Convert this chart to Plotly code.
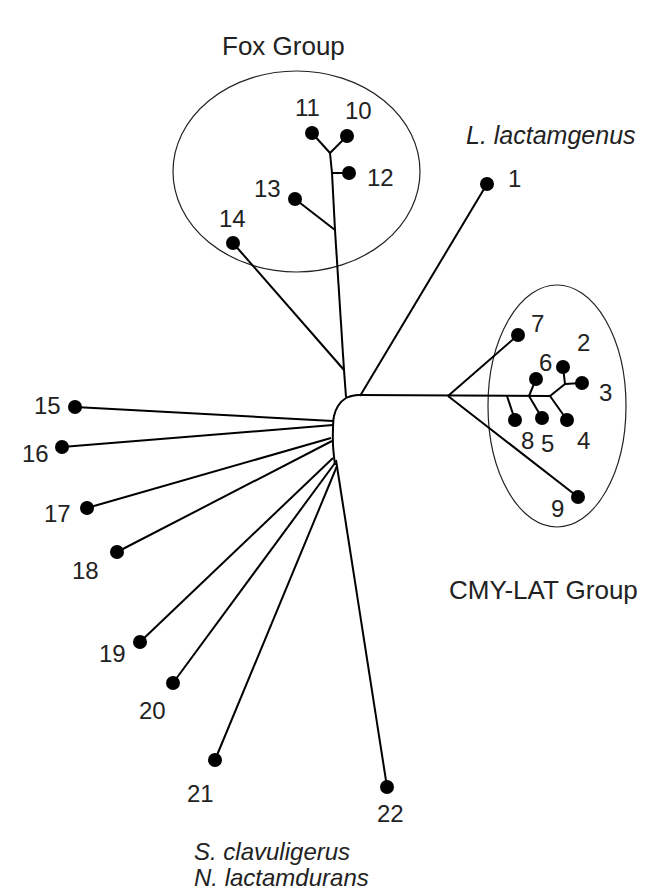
import plotly.graph_objects as go

# ---- data: tree nodes (drawing coordinates) ----
leaf_ids = [str(i) for i in range(1, 23)]
leaf_x = [487, 563, 582, 567, 542, 536, 518, 515, 578, 347, 312, 349, 295, 233,
          75, 62, 87, 117, 140, 173, 215, 387]
leaf_y = [184, 367, 383, 420, 418, 379, 335, 420, 497, 136, 133, 173, 199, 243,
          407, 447, 508, 552, 642, 683, 760, 787]
label_x = [514, 583, 605, 583, 547, 545, 537, 527, 557, 358, 307, 380, 267, 232,
           47, 35, 57, 85, 112, 152, 200, 390]
label_y = [178, 342, 392, 440, 443, 362, 323, 440, 508, 110, 107, 177, 188, 218,
           405, 453, 513, 570, 653, 710, 793, 813]

node_ids = ["hub", "F0", "F14", "F13", "F12", "F1011", "C0", "C8", "C56", "C234", "C23",
            "h15", "h16", "h17", "h18", "h19", "h20", "h21", "h22", "h1"]
node_x = [358, 346, 344, 335, 332, 330, 448, 507, 529, 550, 565,
          333, 333, 331, 332, 333, 335, 337, 336, 360]
node_y = [395, 397, 370, 230, 173, 153, 396, 396, 396, 396, 384,
          421, 425, 438, 441, 458, 463, 466, 460, 396]

hub_arc_x = [358, 346, 338, 334, 333, 333, 335]
hub_arc_y = [395, 398, 406, 416, 428, 445, 465]

edges = [("hub", "C234"), ("h1", "1"),
         ("C0", "7"), ("C0", "9"), ("C8", "8"), ("C56", "5"), ("C56", "6"),
         ("C234", "4"), ("C234", "C23"), ("C23", "2"), ("C23", "3"),
         ("F0", "F14"), ("F14", "F13"), ("F13", "F12"), ("F12", "F1011"),
         ("F14", "14"), ("F13", "13"), ("F12", "12"), ("F1011", "10"), ("F1011", "11"),
         ("h15", "15"), ("h16", "16"), ("h17", "17"), ("h18", "18"),
         ("h19", "19"), ("h20", "20"), ("h21", "21"), ("h22", "22")]

group_labels = ["Fox Group", "<i>L. lactamgenus</i>", "CMY-LAT Group",
                "<i>S. clavuligerus</i>", "<i>N. lactamdurans</i>"]
group_x = [283, 551, 543, 192, 192]
group_y = [46, 135, 590, 851, 877]
group_anchor = ["center", "center", "center", "left", "left"]
group_size = [26, 25, 26, 24, 24]

pos = {}
for n, x, y in zip(leaf_ids, leaf_x, leaf_y):
    pos[n] = (x, y)
for n, x, y in zip(node_ids, node_x, node_y):
    pos[n] = (x, y)

ex, ey = [], []
for a, b in edges:
    ex += [pos[a][0], pos[b][0], None]
    ey += [pos[a][1], pos[b][1], None]

fig = go.Figure()
fig.add_trace(go.Scatter(x=ex, y=ey, mode="lines",
                         line=dict(color="black", width=2), hoverinfo="skip"))
fig.add_trace(go.Scatter(x=hub_arc_x, y=hub_arc_y, mode="lines",
                         line=dict(color="black", width=2, shape="spline"), hoverinfo="skip"))
fig.add_trace(go.Scatter(x=leaf_x, y=leaf_y, mode="markers",
                         marker=dict(color="black", size=14), text=leaf_ids,
                         hoverinfo="text"))

# group ellipses
fig.add_shape(type="circle", x0=173, x1=420, y0=71, y1=272,
              line=dict(color="#222", width=1.2), layer="below")
fig.add_shape(type="circle", x0=488, x1=626, y0=285, y1=527,
              line=dict(color="#222", width=1.2), layer="below")

font = "Liberation Sans, Arial, Helvetica, sans-serif"
for t, x, y in zip(leaf_ids, label_x, label_y):
    fig.add_annotation(x=x, y=y, text=t, showarrow=False,
                       font=dict(family=font, size=24, color="#222"),
                       xanchor="center", yanchor="middle")
for t, x, y, a, s in zip(group_labels, group_x, group_y, group_anchor, group_size):
    fig.add_annotation(x=x, y=y, text=t, showarrow=False,
                       font=dict(family=font, size=s, color="#222"),
                       xanchor=a, yanchor="middle")

# page body has an 8px margin: figure is 8px smaller and axes start at 8
fig.update_layout(width=639, height=884, margin=dict(l=0, r=0, t=0, b=0),
                  paper_bgcolor="white", plot_bgcolor="white", showlegend=False,
                  xaxis=dict(range=[8, 647], visible=False, fixedrange=True),
                  yaxis=dict(range=[892, 8], visible=False, fixedrange=True))
fig.write_html("out.html")
